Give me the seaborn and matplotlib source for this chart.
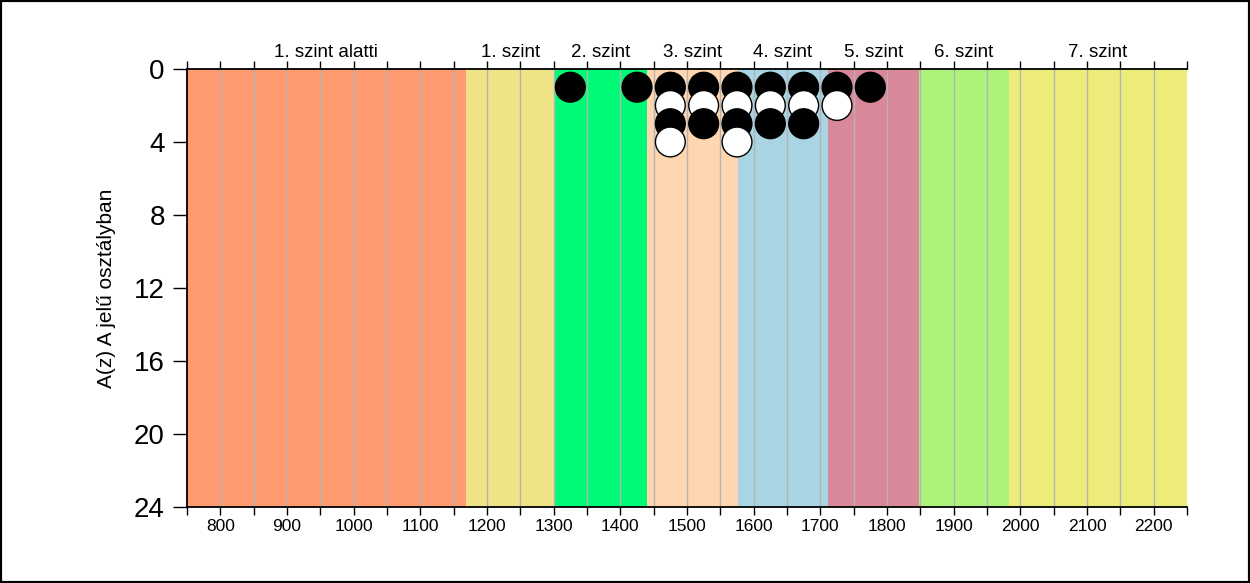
import numpy as np
import pandas as pd
import matplotlib
matplotlib.use("Agg")
import matplotlib.pyplot as plt
from matplotlib.patches import Rectangle
from matplotlib.ticker import MultipleLocator
import seaborn as sns

# ---- data ----
level_edges = [750, 1168, 1302, 1440, 1576, 1711, 1848, 1983, 2250]
level_names = ["1. szint alatti", "1. szint", "2. szint", "3. szint",
               "4. szint", "5. szint", "6. szint", "7. szint"]
level_colors = ["#FF9A71", "#EFE388", "#00FA78", "#FFD6B0",
                "#A8D4E3", "#D98899", "#ADF27B", "#EDEC7A"]
bin_centers = [1325, 1425, 1475, 1525, 1575, 1625, 1675, 1725, 1775]
counts = [1, 1, 4, 3, 4, 3, 3, 2, 1]
x_tick_labels = ["800", "900", "1000", "1100", "1200", "1300", "1400",
                 "1500", "1600", "1700", "1800", "1900", "2000", "2100", "2200"]
y_ticks = [0, 4, 8, 12, 16, 20, 24]
y_label = "A(z) A jelű osztályban"

# ---- build long table of dots ----
rows = []
for c, n in zip(bin_centers, counts):
    for r in range(1, n + 1):
        rows.append({"score": c, "row": r, "kind": "a" if r % 2 == 1 else "b"})
df = pd.DataFrame(rows).sort_values(["row", "score"], kind="stable").reset_index(drop=True)

sns.set_theme(style="white")
plt.rcParams["font.family"] = ["Liberation Sans", "DejaVu Sans"]
plt.rcParams["text.color"] = "black"
plt.rcParams["axes.labelcolor"] = "black"
plt.rcParams["xtick.color"] = "black"
plt.rcParams["ytick.color"] = "black"

fig = plt.figure(figsize=(12.5, 5.83), dpi=100)
ax = fig.add_axes([0.1496, 0.1304, 0.8, 0.7513])

# level bands
for i, name in enumerate(level_names):
    ax.axvspan(level_edges[i], level_edges[i + 1], color=level_colors[i], lw=0, zorder=0)

# grid lines every 50
for gx in np.arange(800, 2250, 50):
    ax.axvline(gx, color="#B4B4B4", lw=1, zorder=1)

sns.scatterplot(data=df, x="score", y="row", hue="kind",
                palette={"a": "black", "b": "white"}, s=460,
                edgecolor="black", linewidth=1, legend=False, ax=ax, zorder=5,
                clip_on=False)

ax.set_xlim(level_edges[0], level_edges[-1])
ax.set_ylim(24, 0)
ax.set_yticks(y_ticks)
ax.set_yticklabels([str(v) for v in y_ticks], fontsize=20, color="black")
ax.set_xticks(np.arange(800, 2201, 100))
ax.set_xticklabels(x_tick_labels, fontsize=12.5, color="black")
ax.xaxis.set_minor_locator(MultipleLocator(50))
ax.tick_params(axis="x", which="both", direction="out", length=6, width=1,
               top=True, bottom=True, labeltop=False, color="black",
               labelcolor="black", pad=3)
ax.tick_params(axis="y", which="major", direction="out", length=10, width=1,
               left=True, color="black", labelcolor="black", pad=6)
ax.set_xlabel("")
ax.set_ylabel(y_label, fontsize=15, color="black")
ax.yaxis.set_label_coords(-0.071, 0.5)

for s in ["top", "bottom", "left"]:
    ax.spines[s].set_visible(True)
    ax.spines[s].set_color("black")
    ax.spines[s].set_linewidth(1.3)
ax.spines["right"].set_visible(False)

# level names above the plot
trans = matplotlib.transforms.blended_transform_factory(ax.transData, ax.transAxes)
for i, name in enumerate(level_names):
    cx = (level_edges[i] + level_edges[i + 1]) / 2
    ax.text(cx, 1 + 12 / 438, name, transform=trans, ha="center", va="baseline",
            fontsize=13.5, color="black")

# figure frame
fig.patches.append(Rectangle((0, 0), 1, 1, transform=fig.transFigure,
                             fill=False, edgecolor="black", lw=3, zorder=10))

fig.savefig("out.png", dpi=100)
